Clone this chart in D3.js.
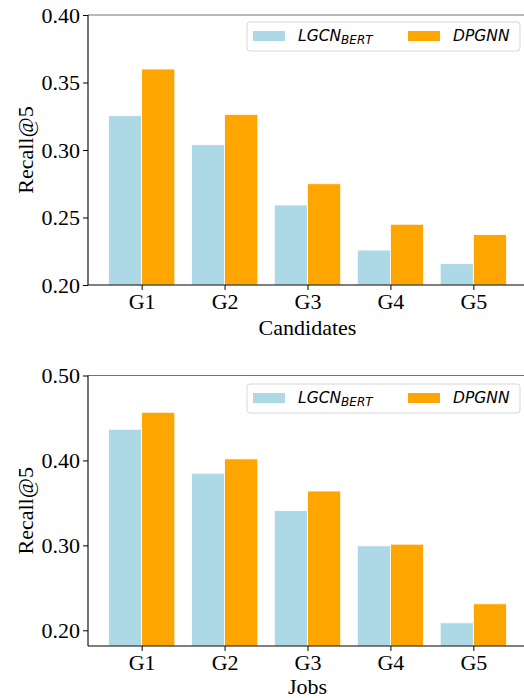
<!DOCTYPE html>
<html>
<head>
<meta charset="utf-8">
<script src="https://cdn.jsdelivr.net/npm/d3@7"></script>
<style>
  html, body { margin: 0; padding: 0; background: #fff; }
  svg { display: block; }
</style>
</head>
<body>
<svg id="chart" width="524" height="698"></svg>
<script>
// ---- data ----
const groups = ["G1", "G2", "G3", "G4", "G5"];
const seriesNames = ["LGCN", "DPGNN"];
const candidatesLGCN = [0.3254, 0.3039, 0.2593, 0.2259, 0.2158];
const candidatesDPGNN = [0.3600, 0.3264, 0.2750, 0.2450, 0.2373];
const jobsLGCN = [0.4367, 0.3850, 0.3410, 0.2994, 0.2088];
const jobsDPGNN = [0.4567, 0.4018, 0.3640, 0.3014, 0.2312];
const candidatesTicks = [0.20, 0.25, 0.30, 0.35, 0.40];
const jobsTicks = [0.20, 0.30, 0.40, 0.50];
const colors = ["#ADD8E6", "#FFA500"];

const svg = d3.select("#chart");
const serif = "'Liberation Serif', 'Times New Roman', serif";
const sans = "'DejaVu Sans', sans-serif";

function panel(cfg) {
  const g = svg.append("g");
  const x = d3.scaleLinear().domain([-0.647, 4.647]).range([88, 527]);
  const y = d3.scaleLinear().domain(cfg.yDomain).range([cfg.bottom, cfg.top]);
  const unit = x(1) - x(0);
  const bw = 0.4 * unit;

  const rows = groups.map((name, i) => ({ name, i, vals: [cfg.a[i], cfg.b[i]] }));
  const grp = g.selectAll("g.grp").data(rows).join("g");
  grp.selectAll("rect")
    .data(d => d.vals.map((v, k) => ({ v, k, i: d.i })))
    .join("rect")
    .attr("x", d => x(d.i) + (d.k === 0 ? -bw : 0))
    .attr("width", bw)
    .attr("y", d => y(d.v))
    .attr("height", d => y(cfg.yDomain[0]) - y(d.v))
    .attr("fill", d => colors[d.k])
    .attr("stroke", "#fff")
    .attr("stroke-width", 0.8);

  // y axis
  const ya = g.append("g")
    .attr("transform", "translate(88,0)")
    .call(d3.axisLeft(y).tickValues(cfg.yTicks).tickFormat(d3.format(".2f")).tickSize(5).tickPadding(3));
  ya.select(".domain").remove();
  ya.selectAll("text").attr("font-family", serif).attr("font-size", 22).attr("fill", "#000").attr("dy", "0.34em");
  ya.selectAll("line").attr("stroke", "#000");

  // x axis
  const xa = g.append("g")
    .attr("transform", `translate(0,${cfg.bottom})`)
    .call(d3.axisBottom(x).tickValues(d3.range(groups.length)).tickFormat(i => groups[i]).tickSize(5).tickPadding(3));
  xa.select(".domain").remove();
  xa.selectAll("text").attr("font-family", serif).attr("font-size", 22).attr("fill", "#000");
  xa.selectAll("line").attr("stroke", "#000");

  // spines
  g.append("line").attr("x1", 88).attr("x2", 88).attr("y1", cfg.top).attr("y2", cfg.bottom)
    .attr("stroke", "#000").attr("stroke-width", 1.1);
  g.append("line").attr("x1", 88).attr("x2", 527).attr("y1", cfg.bottom).attr("y2", cfg.bottom)
    .attr("stroke", "#000").attr("stroke-width", 1.1);
  g.append("line").attr("x1", 88).attr("x2", 527).attr("y1", cfg.top).attr("y2", cfg.top)
    .attr("stroke", "#000").attr("stroke-width", 1.1).attr("stroke-opacity", 0.55);
  g.append("line").attr("x1", 527).attr("x2", 527).attr("y1", cfg.top).attr("y2", cfg.bottom)
    .attr("stroke", "#000").attr("stroke-width", 1.1);

  // axis labels
  g.append("text").attr("x", (88 + 527) / 2).attr("y", cfg.xLabelY)
    .attr("text-anchor", "middle").attr("font-family", serif).attr("font-size", 22)
    .text(cfg.xLabel);
  g.append("text")
    .attr("transform", `translate(33,${(cfg.top + cfg.bottom) / 2}) rotate(-90)`)
    .attr("text-anchor", "middle").attr("font-family", serif).attr("font-size", 22)
    .text("Recall@5");

  // legend
  const lg = g.append("g").attr("transform", `translate(247,${cfg.legendY})`);
  lg.append("rect").attr("x", 0).attr("y", 0).attr("width", 273).attr("height", 29).attr("rx", 3)
    .attr("fill", "#fff").attr("fill-opacity", 0.85).attr("stroke", "#d6d6d6").attr("stroke-width", 1);
  lg.append("rect").attr("x", 6).attr("y", 9).attr("width", 32).attr("height", 10).attr("fill", colors[0]);
  lg.append("rect").attr("x", 161).attr("y", 9).attr("width", 32).attr("height", 10).attr("fill", colors[1]);
  const t1 = lg.append("text").attr("x", 51).attr("y", 19)
    .attr("font-family", sans).attr("font-style", "italic").attr("font-size", 15.5).attr("fill", "#000");
  t1.append("tspan").text(seriesNames[0]);
  t1.append("tspan").attr("dy", 2.5).attr("font-size", 12).text("BERT");
  lg.append("text").attr("x", 206).attr("y", 19)
    .attr("font-family", sans).attr("font-style", "italic").attr("font-size", 15.5).attr("fill", "#000")
    .text(seriesNames[1]);
}

panel({ a: candidatesLGCN, b: candidatesDPGNN, yDomain: [0.20, 0.40], yTicks: candidatesTicks,
        top: 15, bottom: 285, xLabel: "Candidates", xLabelY: 335, legendY: 22 });
panel({ a: jobsLGCN, b: jobsDPGNN, yDomain: [0.1815, 0.50], yTicks: jobsTicks,
        top: 375.5, bottom: 646, xLabel: "Jobs", xLabelY: 693.5, legendY: 384 });
</script>
</body>
</html>
